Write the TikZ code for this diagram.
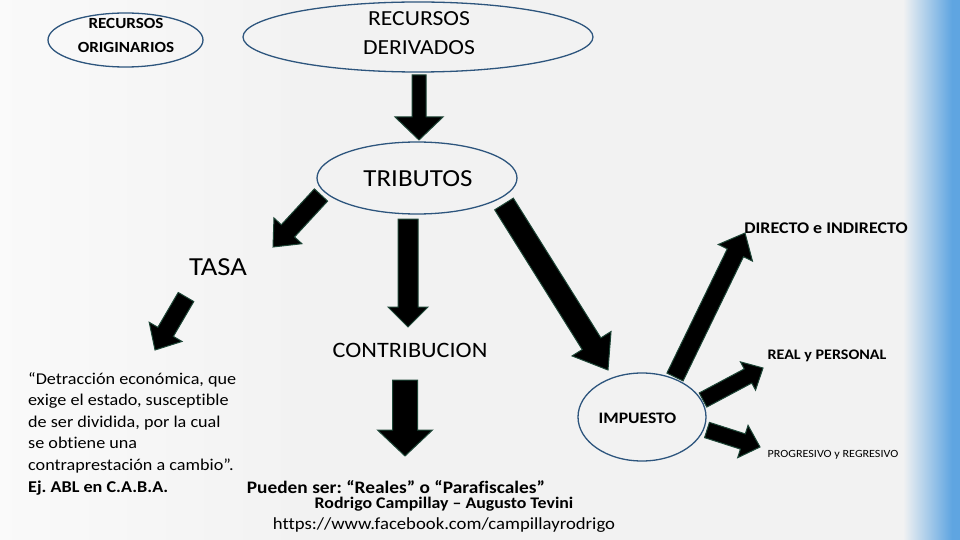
\documentclass[tikz,border=0pt]{standalone}
\usepackage{fontspec}
\setmainfont{Carlito}[FakeStretch=1.1,Ligatures=NoCommon]
\usetikzlibrary{calc,shapes.geometric}
\definecolor{ellblue}{RGB}{45,85,125}
\definecolor{arrowedge}{RGB}{30,70,55}
\definecolor{bgcol}{RGB}{242,242,242}
\definecolor{stripblue}{RGB}{95,165,225}
\newcommand{\fs}[2]{\fontsize{#1}{#2}\selectfont}
\newcommand{\blockarrow}[5]{%
  \coordinate (ba-h) at ($(#2)!#5!(#1)$);
  \filldraw[barrow]
    ($(#1)!#3!90:(#2)$) -- ($(ba-h)!#3!90:(#2)$) -- ($(ba-h)!#4!90:(#2)$) --
    (#2) -- ($(ba-h)!#4!-90:(#2)$) -- ($(ba-h)!#3!-90:(#2)$) --
    ($(#1)!#3!-90:(#2)$) -- cycle;
}
\frenchspacing
\begin{document}
\begin{tikzpicture}[x=1pt,y=-1pt,
  ell/.style={ellipse,draw=ellblue,line width=1.3pt,inner sep=0pt},
  barrow/.style={fill=black,draw=arrowedge,line width=1pt,line join=miter},
  lbl/.style={inner sep=0pt,align=center,text=black}]
\useasboundingbox (0,0) rectangle (960,540);
\fill[bgcol] (0,0) rectangle (960,540);
\shade[left color=white!60!bgcol,right color=bgcol] (0,0) rectangle (300,540);
\shade[left color=bgcol,right color=stripblue] (903,0) rectangle (952,540);
\fill[stripblue] (952,0) rectangle (960,540);

% ellipses
\node[ell,minimum width=155pt,minimum height=54pt] (orig) at (125.5,40) {};
\node[lbl,font={\fs{15.5}{24}\bfseries}] (origt) at (126,35) {RECURSOS\\ORIGINARIOS};
\node[ell,minimum width=350pt,minimum height=70pt] (deriv) at (418,37) {};
\node[lbl,font={\fs{21.5}{29}}] (derivt) at (419,33) {RECURSOS\\DERIVADOS};
\node[ell,minimum width=200pt,minimum height=72pt] (trib) at (417,178) {};
\node[lbl,font={\fs{24.5}{29}}] (tribt) at (418,179) {TRIBUTOS};
\node[ell,minimum width=128pt,minimum height=88pt] (imp) at (642,417) {};
\node[lbl,font={\fs{16}{20}\bfseries}] (impt) at (637.5,418) {IMPUESTO};

% labels
\node[lbl,font={\fs{26}{30}}] (tasa) at (218,267) {TASA};
\node[lbl,font={\fs{22}{26}}] (contr) at (410,350) {CONTRIBUCION};
\node[lbl,font={\fs{16.3}{20}\bfseries}] (direc) at (826,228) {DIRECTO e INDIRECTO};
\node[lbl,font={\fs{14.6}{18}\bfseries}] (real) at (827,356) {REAL y PERSONAL};
\node[lbl,font={\fs{11}{14}}] (prog) at (833,455) {PROGRESIVO y REGRESIVO};
\node[lbl,anchor=north west,align=left,font={\fs{16.5}{21.6}}] (def) at (28,372)
  {“Detracción económica, que\\exige el estado, susceptible\\de ser dividida, por la cual\\se obtiene una\\contraprestación a cambio”.\\\textbf{Ej. ABL en C.A.B.A.}};
\node[lbl,font={\fs{17.6}{20}\bfseries}] (pueden) at (396,487) {Pueden ser: “Reales” o “Parafiscales”};
\node[lbl,font={\fs{16.2}{18}\bfseries}] (autores) at (444,504) {Rodrigo Campillay – Augusto Tevini};
\node[lbl,font={\fs{17}{19}}] (url) at (444,525) {https://www.facebook.com/campillayrodrigo};

% arrow end points
\coordinate (a1s) at (419,75);  \coordinate (a1e) at (419,140);
\coordinate (a2s) at (321,195); \coordinate (a2e) at (273,247);
\coordinate (a3s) at (408,219); \coordinate (a3e) at (408,327);
\coordinate (a4s) at (504,204); \coordinate (a4e) at (608,370);
\coordinate (a5s) at (186,297); \coordinate (a5e) at (155,350);
\coordinate (a6s) at (405,380); \coordinate (a6e) at (405,456);
\coordinate (a7s) at (675,377); \coordinate (a7e) at (745,233);
\coordinate (a8s) at (703,400); \coordinate (a8e) at (763,368);
\coordinate (a9s) at (707,430); \coordinate (a9e) at (760,447);

\blockarrow{a1s}{a1e}{7pt}{24pt}{23pt}
\blockarrow{a2s}{a2e}{9pt}{19pt}{22pt}
\blockarrow{a3s}{a3e}{10pt}{20pt}{20pt}
\blockarrow{a4s}{a4e}{11pt}{23pt}{31pt}
\blockarrow{a5s}{a5e}{9pt}{19pt}{21pt}
\blockarrow{a6s}{a6e}{12.5pt}{27.5pt}{26pt}
\blockarrow{a7s}{a7e}{9pt}{19pt}{22pt}
\blockarrow{a8s}{a8e}{8pt}{16pt}{17pt}
\blockarrow{a9s}{a9e}{8pt}{17pt}{18pt}
\end{tikzpicture}
\end{document}
